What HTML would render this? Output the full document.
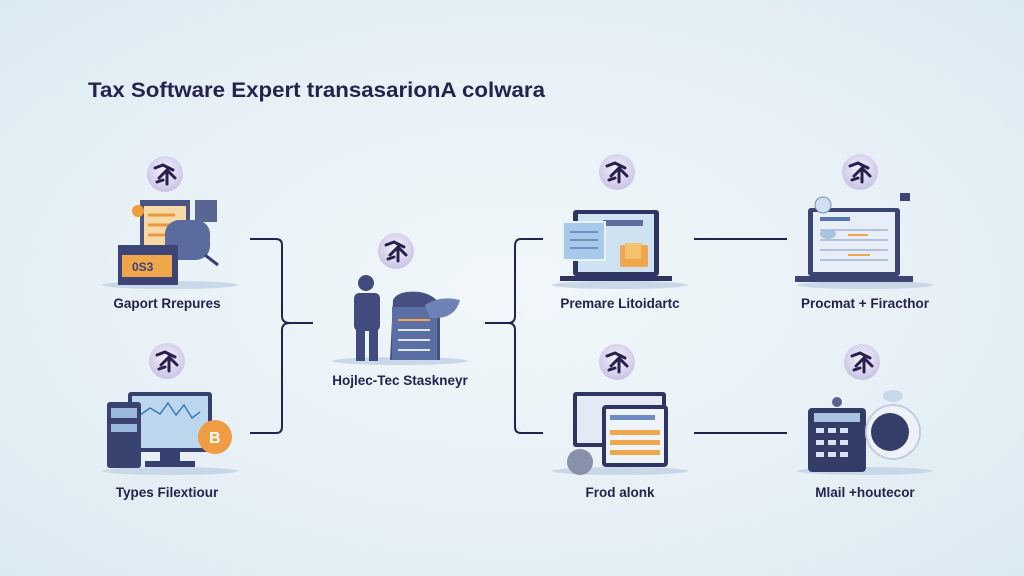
<!DOCTYPE html>
<html><head><meta charset="utf-8"><style>
html,body{margin:0;padding:0;}
body{width:1024px;height:576px;overflow:hidden;background:radial-gradient(ellipse at 50% 50%,#f1f7fa 0%,#e4eff5 70%,#dbe9f1 100%);font-family:"Liberation Sans",sans-serif;}
svg{position:absolute;left:0;top:0}
text{font-family:"Liberation Sans",sans-serif;fill:#23244e}
</style></head><body>
<svg width="1024" height="576" viewBox="0 0 1024 576">
<defs>
<radialGradient id="cg" cx="50%" cy="40%" r="60%"><stop offset="0" stop-color="#f4f2fb"/><stop offset="1" stop-color="#c9c3e6"/></radialGradient>
<g id="ic">
<circle r="18" fill="url(#cg)"/>
<path d="M-10,-6 L-2,-9 L8,-4 M-6,4 L2,-4 L10,4 M2,-4 L2,10 M-8,8 L-2,6" stroke="#2a1f4f" stroke-width="3" fill="none" stroke-linecap="round"/>
</g>
</defs>
<text x="88" y="97" font-size="21" font-weight="bold" textLength="457" lengthAdjust="spacingAndGlyphs">Tax Software Expert transasarionA colwara</text>

<!-- connectors -->
<g stroke="#23244e" stroke-width="2" fill="none">
<path d="M250,239 H276 Q282,239 282,245 V316 Q282,323 290,323 H313 M290,323 Q282,323 282,330 V427 Q282,433 276,433 H250"/>
<path d="M485,323 H508 Q515,323 515,316 V246 Q515,239 521,239 H543 M508,323 Q515,323 515,330 V427 Q515,433 521,433 H543"/>
<path d="M694,239 H787 M694,433 H787"/>
</g>

<!-- icons -->
<use href="#ic" x="165" y="174"/>
<use href="#ic" x="167" y="361"/>
<use href="#ic" x="396" y="251"/>
<use href="#ic" x="617" y="172"/>
<use href="#ic" x="617" y="362"/>
<use href="#ic" x="860" y="172"/>
<use href="#ic" x="862" y="362"/>

<!-- shadows -->
<g fill="#c9d8e8">
<ellipse cx="170" cy="285" rx="68" ry="4"/><ellipse cx="170" cy="471" rx="68" ry="4"/>
<ellipse cx="400" cy="361" rx="68" ry="4"/><ellipse cx="620" cy="285" rx="68" ry="4"/>
<ellipse cx="620" cy="471" rx="68" ry="4"/><ellipse cx="865" cy="285" rx="68" ry="4"/><ellipse cx="865" cy="471" rx="68" ry="4"/>
</g>

<!-- col1 top -->
<rect x="140" y="200" width="50" height="55" fill="#4a5384"/>
<rect x="144" y="206" width="42" height="45" fill="#f7d9a8"/>
<g stroke="#e99a3a" stroke-width="3"><line x1="148" y1="215" x2="175" y2="215"/><line x1="148" y1="225" x2="170" y2="225"/><line x1="148" y1="235" x2="175" y2="235"/></g>
<rect x="195" y="200" width="22" height="22" fill="#5a6592"/>
<rect x="165" y="220" width="45" height="40" rx="14" fill="#5b6b9e"/>
<line x1="205" y1="255" x2="218" y2="265" stroke="#3a3f68" stroke-width="3"/>
<rect x="118" y="245" width="60" height="40" fill="#3d4476"/>
<rect x="122" y="255" width="50" height="22" fill="#f0a64a"/>
<text x="132" y="271" font-size="12" font-weight="bold" style="fill:#3d4476">0S3</text>
<circle cx="138" cy="211" r="6" fill="#ef9c3b"/>

<!-- col1 bottom -->
<rect x="128" y="392" width="84" height="60" rx="3" fill="#36406f"/>
<rect x="132" y="396" width="76" height="52" fill="#bcd6ee"/>
<polyline points="140,415 150,408 160,414 168,403 176,415 184,405 192,418 200,412" fill="none" stroke="#3a7ab8" stroke-width="1.5"/>
<rect x="160" y="452" width="20" height="10" fill="#36406f"/><rect x="145" y="461" width="50" height="6" fill="#36406f"/>
<rect x="107" y="402" width="34" height="66" rx="3" fill="#3a4270"/>
<rect x="111" y="408" width="26" height="10" fill="#9ab8dc"/><rect x="111" y="424" width="26" height="8" fill="#9ab8dc"/>
<circle cx="215" cy="437" r="17" fill="#ef9c42"/>
<text x="209" y="443" font-size="16" font-weight="bold" style="fill:#fff">B</text>

<!-- center -->
<circle cx="366" cy="283" r="8" fill="#414b7e"/>
<rect x="354" y="293" width="26" height="38" rx="5" fill="#414b7e"/>
<rect x="356" y="328" width="9" height="33" fill="#414b7e"/><rect x="369" y="328" width="9" height="33" fill="#414b7e"/>
<path d="M393,300 Q398,290 420,292 Q435,295 440,305 L440,360 L390,360 Z" fill="#47517f"/>
<rect x="392" y="307" width="45" height="53" fill="#5b6fa5"/>
<g stroke="#dfe8f5" stroke-width="2"><line x1="398" y1="330" x2="430" y2="330"/><line x1="398" y1="340" x2="430" y2="340"/><line x1="398" y1="350" x2="430" y2="350"/></g>
<line x1="398" y1="320" x2="430" y2="320" stroke="#f0a64a" stroke-width="2"/>
<path d="M425,305 Q440,295 460,300 Q455,320 430,318 Z" fill="#6f82b5"/>

<!-- col3 top -->
<rect x="573" y="210" width="86" height="66" rx="3" fill="#2e3562"/>
<rect x="578" y="214" width="76" height="58" fill="#cfe2f2"/>
<rect x="603" y="220" width="40" height="6" fill="#5e6d9c"/>
<rect x="563" y="222" width="42" height="38" fill="#a9c9ea" stroke="#e8f2fb" stroke-width="2"/>
<g stroke="#5583b7" stroke-width="1.5"><line x1="570" y1="232" x2="598" y2="232"/><line x1="570" y1="240" x2="598" y2="240"/><line x1="570" y1="248" x2="598" y2="248"/></g>
<rect x="620" y="245" width="28" height="22" rx="2" fill="#f0a64a"/>
<rect x="625" y="243" width="16" height="16" fill="#f5c070"/>
<rect x="560" y="276" width="112" height="5" fill="#2e3562"/>

<!-- col3 bottom -->
<rect x="573" y="392" width="93" height="55" rx="3" fill="#2e3562"/>
<rect x="577" y="396" width="85" height="47" fill="#e3eaf5"/>
<rect x="602" y="405" width="66" height="62" rx="4" fill="#2e3562"/>
<rect x="606" y="409" width="58" height="54" fill="#eef3fa"/>
<rect x="610" y="415" width="45" height="5" fill="#6d8cc2"/>
<g fill="#f0a64a"><rect x="610" y="430" width="50" height="5"/><rect x="610" y="440" width="50" height="5"/><rect x="610" y="450" width="50" height="5"/></g>
<circle cx="580" cy="462" r="13" fill="#8791aa"/>

<!-- col4 top -->
<rect x="808" y="208" width="92" height="68" rx="3" fill="#3c4472"/>
<rect x="813" y="212" width="82" height="60" fill="#e8eef7"/>
<rect x="820" y="217" width="30" height="4" fill="#5576b0"/>
<g stroke="#9fb0cf" stroke-width="1.5"><line x1="820" y1="230" x2="888" y2="230"/><line x1="820" y1="240" x2="888" y2="240"/><line x1="820" y1="250" x2="888" y2="250"/><line x1="820" y1="260" x2="888" y2="260"/></g>
<g stroke="#f0a64a" stroke-width="2"><line x1="848" y1="235" x2="868" y2="235"/><line x1="848" y1="255" x2="870" y2="255"/></g>
<rect x="795" y="276" width="118" height="6" fill="#3c4472"/>
<circle cx="823" cy="205" r="8" fill="#cfe0f0" stroke="#7b8fb8"/>
<ellipse cx="828" cy="234" rx="8" ry="5" fill="#a8c3e0"/>
<rect x="900" y="193" width="10" height="8" fill="#3c4472"/>

<!-- col4 bottom -->
<rect x="808" y="408" width="58" height="64" rx="4" fill="#343c68"/>
<rect x="814" y="413" width="46" height="9" fill="#a9c4e0"/>
<g fill="#d8e2f2"><rect x="816" y="428" width="8" height="5"/><rect x="828" y="428" width="8" height="5"/><rect x="840" y="428" width="8" height="5"/><rect x="816" y="440" width="8" height="5"/><rect x="828" y="440" width="8" height="5"/><rect x="840" y="440" width="8" height="5"/><rect x="816" y="452" width="8" height="5"/><rect x="828" y="452" width="8" height="5"/><rect x="840" y="452" width="8" height="5"/></g>
<circle cx="837" cy="402" r="5" fill="#5a6290"/>
<circle cx="893" cy="432" r="27" fill="#eef2f8" stroke="#c2cce0" stroke-width="2"/>
<circle cx="890" cy="432" r="19" fill="#353d6b"/>
<ellipse cx="893" cy="396" rx="10" ry="6" fill="#c9d8ea"/>

<!-- labels -->
<g font-size="13.5" font-weight="bold" text-anchor="middle">
<text x="167" y="308">Gaport Rrepures</text>
<text x="167" y="497">Types Filextiour</text>
<text x="400" y="385">Hojlec-Tec Staskneyr</text>
<text x="620" y="308">Premare Litoidartc</text>
<text x="620" y="497">Frod alonk</text>
<text x="865" y="308">Procmat + Firacthor</text>
<text x="865" y="497">Mlail +houtecor</text>
</g>
</svg>
</body></html>
